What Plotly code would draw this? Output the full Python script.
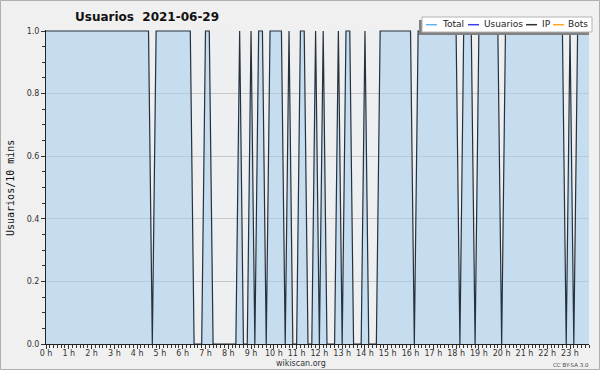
import plotly.graph_objects as go

# ---- data (10-minute slots, 2021-06-29) ----
total = [
    1, 1, 1, 1, 1, 1, 1, 1, 1, 1, 1, 1,
    1, 1, 1, 1, 1, 1, 1, 1, 1, 1, 1, 1,
    1, 1, 1, 1, 0, 1, 1, 1, 1, 1, 1, 1,
    1, 1, 1, 0, 0, 0, 1, 1, 0, 0, 0, 0,
    0, 0, 0, 1, 0, 0, 1, 0, 1, 1, 0, 1,
    1, 1, 1, 0, 1, 0, 0, 1, 1, 0, 0, 1,
    0, 1, 0, 0, 0, 1, 0, 1, 1, 0, 0, 0,
    1, 0, 0, 0, 1, 1, 1, 1, 1, 1, 1, 1,
    1, 0, 1, 1, 1, 1, 1, 1, 1, 1, 1, 1,
    1, 0, 1, 1, 1, 0, 1, 1, 1, 1, 1, 1,
    0, 1, 1, 1, 1, 1, 1, 1, 1, 1, 1, 1,
    1, 1, 1, 1, 1, 0, 1, 0, 1, 1, 1, 1,
]
hours = [i / 6 for i in range(len(total))]
hour_ticks = list(range(24))
hour_labels = [f"{h} h" for h in hour_ticks]
y_ticks = [0.0, 0.2, 0.4, 0.6, 0.8, 1.0]
legend_names = ["Total", "Usuarios", "IP", "Bots"]
legend_colors = ["#62b2f0", "#3b3bf2", "#333333", "#ffa424"]

W, H = 600, 370
L, R, T, B = 46, 11, 30, 26
PW, PH = W - L - R, H - T - B


def px(x):
    return (x - L) / PW


def py(y):
    return (H - B - y) / PH


fig = go.Figure()
fig.add_trace(go.Scatter(
    x=hours, y=total, mode="lines", fill="tozeroy",
    fillcolor="rgba(165,205,238,0.55)",
    line=dict(color="#25313d", width=1.2),
    showlegend=False, hoverinfo="skip",
))

shapes = []
annotations = []
# outer frame
shapes.append(dict(type="rect", xref="paper", yref="paper",
                   x0=px(0.5), x1=px(W - 0.5), y0=py(0.5), y1=py(H - 0.5),
                   line=dict(color="#b0b0b0", width=1), layer="above"))
# legend shadow + box
shapes.append(dict(type="rect", xref="paper", yref="paper",
                   x0=px(419), x1=px(589), y0=py(20), y1=py(35),
                   fillcolor="#808080", line=dict(width=0), layer="above"))
shapes.append(dict(type="rect", xref="paper", yref="paper",
                   x0=px(422), x1=px(592), y0=py(17), y1=py(32),
                   fillcolor="#ffffff", line=dict(color="#b4b4b4", width=1),
                   layer="above"))
line_x = [426, 468, 526, 553]
text_x = [442, 484, 542, 568]
for name, col, lx, tx in zip(legend_names, legend_colors, line_x, text_x):
    shapes.append(dict(type="line", xref="paper", yref="paper",
                       x0=px(lx), x1=px(lx + 11), y0=py(24.7), y1=py(24.7),
                       line=dict(color=col, width=1.5), layer="above"))
    annotations.append(dict(text=name, xref="paper", yref="paper",
                            x=px(tx - 2), y=py(24.2), xanchor="left",
                            yanchor="middle", showarrow=False,
                            font=dict(family="DejaVu Sans", size=9,
                                      color="#222")))

# title
annotations.append(dict(text="Usuarios\u00a0\u00a02021-06-29", xref="paper",
                        yref="paper", x=px(146.5), y=py(17.5), xanchor="center",
                        yanchor="middle", showarrow=False,
                        font=dict(family="DejaVu Sans", size=12,
                                  color="#111", weight="bold")))
# y-axis title
annotations.append(dict(text="Usuarios/10 mins", xref="paper", yref="paper",
                        x=px(10), y=py(188), xanchor="center",
                        yanchor="middle", textangle=-90, showarrow=False,
                        font=dict(family="DejaVu Sans Mono", size=10,
                                  color="#111")))
# footer
annotations.append(dict(text="wikiscan.org", xref="paper", yref="paper",
                        x=px(300.5), y=py(363.5), xanchor="center",
                        yanchor="middle", showarrow=False,
                        font=dict(family="DejaVu Sans", size=8, color="#333")))
annotations.append(dict(text="CC BY-SA 3.0", xref="paper", yref="paper",
                        x=px(591), y=py(365), xanchor="right",
                        yanchor="middle", showarrow=False,
                        font=dict(family="DejaVu Sans", size=5.5,
                                  color="#444")))

fig.update_layout(
    width=W, height=H,
    margin=dict(l=L, r=R, t=T, b=B, pad=0),
    paper_bgcolor="#f0f0f0", plot_bgcolor="#eeeff0",
    shapes=shapes, annotations=annotations,
    showlegend=False,
    xaxis=dict(range=[0, hours[-1]], tickmode="array", tickvals=hour_ticks,
               ticktext=hour_labels, ticks="outside", ticklen=4,
               ticklabelstandoff=-3,
               tickcolor="#333", showgrid=False, zeroline=False,
               showline=True, linecolor="#222", linewidth=1,
               tickfont=dict(family="DejaVu Sans", size=8, color="#333"),
               minor=dict(dtick=1 / 6, ticks="outside", ticklen=3,
                          tickcolor="#333", showgrid=False)),
    yaxis=dict(range=[0, PH / (PH - 1)], tickmode="array", tickvals=y_ticks,
               ticktext=[f"{v:.1f}" for v in y_ticks], ticks="outside",
               ticklen=4, tickcolor="#333", showgrid=True,
               gridcolor="#c8c8c8", gridwidth=1, zeroline=False,
               showline=True, linecolor="#222", linewidth=1,
               tickfont=dict(family="DejaVu Sans", size=8, color="#333"),
               minor=dict(dtick=0.05, ticks="outside", ticklen=3,
                          tickcolor="#333", showgrid=False)),
)

fig.write_html(
    "out.html",
    config={"displayModeBar": False},
    post_script="document.body.style.margin='0';document.body.style.padding='0';",
)
